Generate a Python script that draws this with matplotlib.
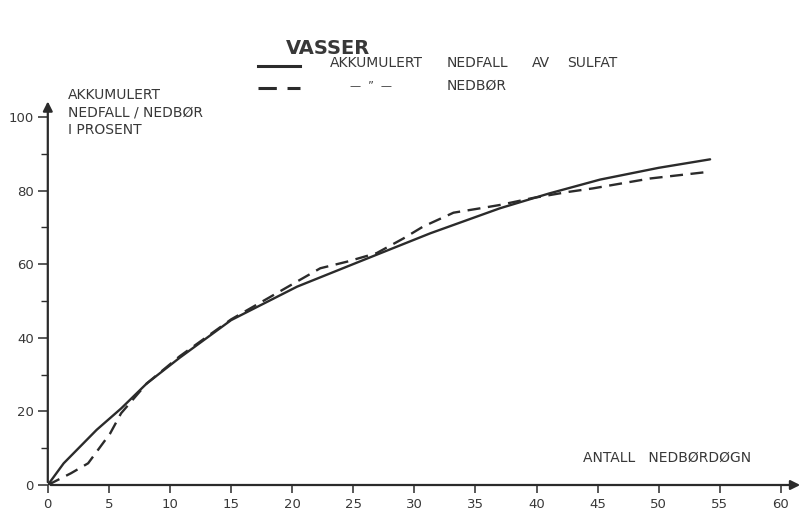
import numpy as np
import matplotlib.pyplot as plt

plt.rcParams['font.family'] = ['DejaVu Sans']

# akkumulert nedfall av sulfat (heltrukket)
sulfat_x = [0, 1.3, 4.0, 6.0, 8.1, 10.8, 15.0, 20.4, 25.8, 31.3, 37.0, 41.0, 45.2, 50.0, 54.2]
sulfat_y = [0, 5.9, 15.0, 20.8, 27.6, 34.6, 44.8, 53.9, 61.1, 68.4, 75.2, 79.2, 83.0, 86.2, 88.5]

# akkumulert nedbør (stiplet)
nedbor_x = [0, 1.9, 3.3, 5.1, 6.0, 8.1, 10.8, 15.0, 20.4, 22.3, 24.5, 26.9, 29.1, 30.7,
            33.2, 35.4, 37.0, 39.7, 42.5, 44.6, 49.3, 53.8]
nedbor_y = [0, 3.2, 5.9, 14.0, 19.5, 27.6, 35.0, 45.0, 55.3, 58.9, 60.7, 63.0, 67.0, 70.2,
            74.0, 75.2, 76.1, 78.0, 79.6, 80.6, 83.3, 85.0]

xticks = list(range(0, 61, 5))
yticks = [0, 20, 40, 60, 80, 100]

ink = '#2b2b2b'
txt = '#383838'
W, H = 802, 515

fig = plt.figure(figsize=(8.02, 5.15), dpi=100)
ax = fig.add_axes([47.8 / W, 30 / H, 751.5 / W, 382.7 / H])
ax.set_xlim(0, 61.5)
ax.set_ylim(0, 104)

ax.plot(sulfat_x, sulfat_y, color=ink, lw=1.7, solid_capstyle='round')
ax.plot(nedbor_x, nedbor_y, color=ink, lw=1.7, dashes=(5.5, 3.2))

for s in ax.spines.values():
    s.set_visible(False)

# axes with arrow heads
ax.annotate('', xy=(61.8, 0), xytext=(0, 0), annotation_clip=False,
            arrowprops=dict(arrowstyle='-|>', color=ink, lw=1.6, mutation_scale=14))
ax.annotate('', xy=(0, 105), xytext=(0, 0), annotation_clip=False,
            arrowprops=dict(arrowstyle='-|>', color=ink, lw=1.6, mutation_scale=14))

ax.set_xticks(xticks)
ax.set_yticks(yticks)
ax.set_yticks(range(10, 100, 20), minor=True)
ax.tick_params(axis='x', direction='out', length=6, width=1.1, color=ink,
               labelsize=9.5, labelcolor=txt, pad=3)
ax.tick_params(axis='y', which='major', direction='out', length=7, width=1.1, color=ink,
               labelsize=9.5, labelcolor=txt, pad=3)
ax.tick_params(axis='y', which='minor', direction='out', length=5, width=1.0, color=ink)


def ftext(x, y, s, **kw):
    fig.text(x / W, 1 - y / H, s, color=txt, va='center', **kw)


ftext(328, 48, 'VASSER', ha='center', fontsize=14, fontweight='bold')

# legend
fig.add_artist(plt.Line2D([258 / W, 300 / W], [1 - 66 / H, 1 - 66 / H], color=ink, lw=2.2))
fig.add_artist(plt.Line2D([258 / W, 300 / W], [1 - 88 / H, 1 - 88 / H], color=ink, lw=2.2,
                          dashes=(6, 3.5)))
ftext(330, 63, 'AKKUMULERT', fontsize=10)
ftext(447, 63, 'NEDFALL', fontsize=10)
ftext(532, 63, 'AV', fontsize=10)
ftext(567, 63, 'SULFAT', fontsize=10)
ftext(350, 86, '\u2014  \u201d  \u2014', fontsize=8)
ftext(447, 86, 'NEDBØR', fontsize=10)

# axis titles
ftext(68, 95, 'AKKUMULERT', fontsize=10)
ftext(68, 113, 'NEDFALL / NEDBØR', fontsize=10)
ftext(68, 130, 'I PROSENT', fontsize=10)
ftext(583, 458, 'ANTALL   NEDBØRDØGN', fontsize=10)

fig.savefig('out.png', dpi=100)
